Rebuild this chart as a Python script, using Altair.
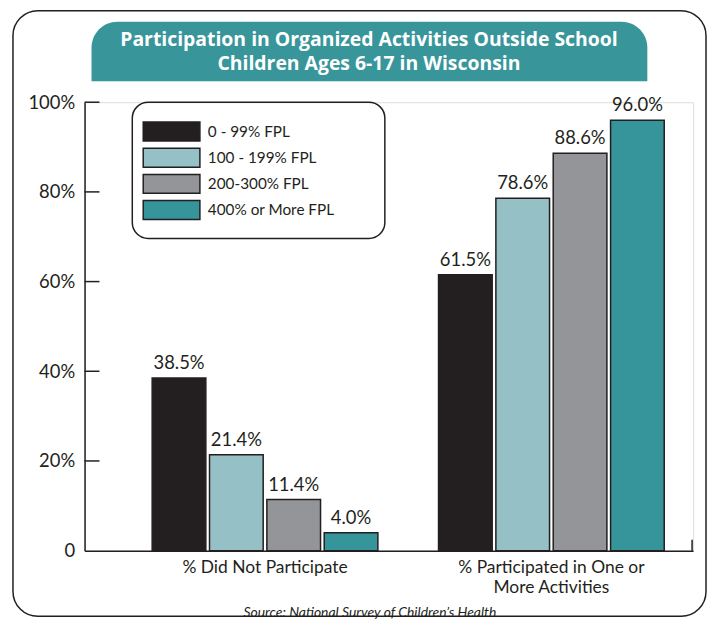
import altair as alt
import pandas as pd

# ---- data ----
groups = ["% Did Not Participate", "% Participated in One or More Activities"]
levels = ["0 - 99% FPL", "100 - 199% FPL", "200-300% FPL", "400% or More FPL"]
did_not = [38.5, 21.4, 11.4, 4.0]
participated = [61.5, 78.6, 88.6, 96.0]
colors = ["#231f20", "#95c0c6", "#939598", "#36959a"]
y_ticks = [0, 20, 40, 60, 80, 100]
title_lines = ["Participation in Organized Activities Outside School",
               "Children Ages 6-17 in Wisconsin"]
source_text = "Source:  National Survey of Children\u2019s Health"

rows = []
for g, vals in zip(groups, [did_not, participated]):
    for lv, v in zip(levels, vals):
        rows.append({"group": g, "level": lv, "value": v})
df = pd.DataFrame(rows)
tick_df = pd.DataFrame({"value": [t for t in y_ticks if t > 0]})
deco = pd.DataFrame({"k": [0]})

ink = "#231f20"
font = "Lato"

x_enc = alt.X(
    "group:N", sort=groups, title=None,
    scale=alt.Scale(paddingInner=0.2118, paddingOuter=0.1684, align=0.701),
    axis=alt.Axis(
        labelAngle=0, ticks=False, domainColor=ink, domainWidth=1.5,
        labelFontSize=17.5, labelColor=ink, labelFont=font, labelPadding=8,
        labelLineHeight=20, labelLimit=400,
        labelExpr="datum.label == '% Participated in One or More Activities' ? "
                  "['% Participated in One or', 'More Activities'] : datum.label",
    ),
)
xo_enc = alt.XOffset("level:N", sort=levels,
                     scale=alt.Scale(paddingInner=0.064, paddingOuter=0))
y_enc = alt.Y(
    "value:Q", title=None,
    scale=alt.Scale(domain=[0, 100], nice=False),
    axis=alt.Axis(
        values=y_ticks, ticks=False, grid=False, domainColor=ink, domainWidth=1.5,
        labelExpr="datum.value == 0 ? '0' : datum.value + '%'",
        labelFontSize=18.5, labelColor=ink, labelFont=font, labelPadding=10,
    ),
)
color_enc = alt.Color(
    "level:N", sort=levels,
    scale=alt.Scale(domain=levels, range=colors),
    legend=alt.Legend(
        orient="none", legendX=77, legendY=19, title=None,
        symbolType="M-3,-1H3V1H-3Z", symbolSize=361,
        symbolStrokeColor=ink, symbolStrokeWidth=1.5, symbolOpacity=1,
        labelFontSize=15.4, labelFont=font, labelColor=ink, labelOffset=26,
        rowPadding=1.3, padding=0,
    ),
)

bars = alt.Chart(df).mark_bar(stroke=ink, strokeWidth=1.5, opacity=1).encode(
    x=x_enc, xOffset=xo_enc, y=y_enc, color=color_enc
)
bar_labels = alt.Chart(df).transform_calculate(
    lab="format(datum.value, '.1f') + '%'"
).mark_text(dy=-5, baseline="bottom", fontSize=18.5, font=font, color=ink).encode(
    x=x_enc, xOffset=xo_enc, y=y_enc, text="lab:N"
)

inner_ticks = alt.Chart(tick_df).mark_rule(color=ink, strokeWidth=1.5).encode(
    y=y_enc, x=alt.value(0), x2=alt.value(15)
)
end_tick = alt.Chart(deco).mark_rule(color=ink, strokeWidth=1.5).encode(
    x=alt.value(611), y=alt.value(440), y2=alt.value(451)
)

outer_box = alt.Chart(deco).mark_rect(
    fillOpacity=0, stroke=ink, strokeWidth=1.5, cornerRadius=25
).encode(x=alt.value(-72), x2=alt.value(625), y=alt.value(-92), y2=alt.value(517))

banner = alt.Chart(deco).mark_rect(
    fill="#38959a", cornerRadiusTopLeft=26, cornerRadiusTopRight=26
).encode(x=alt.value(7), x2=alt.value(566), y=alt.value(-81), y2=alt.value(-21))

title1 = alt.Chart(deco).mark_text(
    font="Open Sans", fontSize=19.5, fontWeight="bold", color="white", baseline="middle"
).encode(x=alt.value(286), y=alt.value(-63), text=alt.value(title_lines[0]))
title2 = alt.Chart(deco).mark_text(
    font="Open Sans", fontSize=19.5, fontWeight="bold", color="white", baseline="middle"
).encode(x=alt.value(286), y=alt.value(-38), text=alt.value(title_lines[1]))

legend_box = alt.Chart(deco).mark_rect(
    fillOpacity=0, stroke=ink, strokeWidth=1.5, cornerRadius=16
).encode(x=alt.value(48), x2=alt.value(302), y=alt.value(0), y2=alt.value(137))

source = alt.Chart(deco).mark_text(
    font=font, fontSize=14, fontStyle="italic", color=ink, baseline="middle"
).encode(x=alt.value(287), y=alt.value(514), text=alt.value(source_text))

chart = alt.layer(
    outer_box, banner, title1, title2, legend_box, bars, bar_labels,
    inner_ticks, end_tick, source
).properties(
    width=612, height=451,
    autosize=alt.AutoSizeParams(type="none"),
    padding={"left": 77, "top": 93, "right": 14, "bottom": 68},
).configure_view(stroke=None).configure(background="white")

chart.save("out.html", embed_options={"renderer": "svg", "actions": False})
